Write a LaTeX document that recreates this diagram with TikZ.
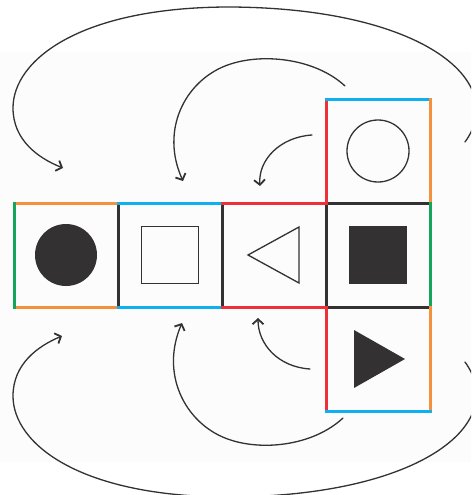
\documentclass[tikz,border=0pt]{standalone}
\usetikzlibrary{arrows.meta}
\definecolor{cOrange}{HTML}{F5903C}
\definecolor{cBlue}{HTML}{0DB1F0}
\definecolor{cRed}{HTML}{EE3038}
\definecolor{cGreen}{HTML}{12A65A}
\definecolor{ink}{HTML}{333132}
\definecolor{panel}{HTML}{FCFCFC}
\tikzset{
  cell/.style={rectangle, minimum size=104pt, inner sep=0pt, outer sep=0pt},
  edgeline/.style={line width=3pt, line cap=rect, line join=miter},
  edgeK/.style={edgeline, draw=ink},
  edgeO/.style={edgeline, draw=cOrange},
  edgeB/.style={edgeline, draw=cBlue},
  edgeR/.style={edgeline, draw=cRed},
  edgeG/.style={edgeline, draw=cGreen},
  outline/.style={draw=ink, line width=1.3pt, inner sep=0pt, outer sep=0pt},
  solid shape/.style={fill=ink, draw=none, inner sep=0pt, outer sep=0pt},
  rot/.style={draw=ink, line width=1.3pt, line cap=round,
    -{Straight Barb[length=5pt,width=11pt,line width=1.8pt]}}
}
\begin{document}
\begin{tikzpicture}[x=1pt,y=-1pt]
\useasboundingbox (0,0) rectangle (471,495);
\clip (0,0) rectangle (471,495);
\fill[panel] (0,52) rectangle (471,462);

% cells
\node[cell] (c1) at (66,255) {};
\node[cell] (c2) at (170,255) {};
\node[cell] (c3) at (274,255) {};
\node[cell] (c4) at (378,255) {};
\node[cell] (ct) at (378,151) {};
\node[cell] (cb) at (378,359) {};

% black edges
\draw[edgeK] (c1.north east) -- (c1.south east);
\draw[edgeK] (c2.north east) -- (c2.south east);
\draw[edgeK] (c3.north east) -- (c3.south east);
\draw[edgeK] (c4.north west) -- (c4.north east);
\draw[edgeK] (c4.south west) -- (c4.south east);

% coloured edges
\draw[edgeO] (c1.north west) -- (c1.north east);
\draw[edgeO] (c1.south west) -- (c1.south east);
\draw[edgeG] (c1.north west) -- (c1.south west);
\draw[edgeB] (c2.north west) -- (c2.north east);
\draw[edgeB] (c2.south west) -- (c2.south east);
\draw[edgeR] (c3.north west) -- (ct.south west) -- (ct.north west);
\draw[edgeR] (c3.south west) -- (cb.north west) -- (cb.south west);
\draw[edgeB] (ct.north west) -- (ct.north east);
\draw[edgeO] (ct.north east) -- (ct.south east);
\draw[edgeG] (c4.north east) -- (c4.south east);
\draw[edgeO] (cb.north east) -- (cb.south east);
\draw[edgeB] (cb.south west) -- (cb.south east);

% faces
\node[solid shape, circle, minimum size=62pt] (dot) at (c1) {};
\node[outline, rectangle, minimum size=57pt] (box) at (c2) {};
\draw[outline, line join=miter] ([shift={(-26,0)}]c3.center) -- ([shift={(25,-28)}]c3.center) -- ([shift={(25,28)}]c3.center) -- cycle;
\node[solid shape, rectangle, minimum size=58pt] (blk) at (c4) {};
\node[outline, circle, minimum size=62pt] (ring) at (ct) {};
\fill[ink] ([shift={(-24,-29)}]cb.center) -- ([shift={(27,0)}]cb.center) -- ([shift={(-24,29)}]cb.center) -- cycle;

% rotation arrows
\coordinate (o1s) at (465,142);
\coordinate (o1e) at (63,168);
\coordinate (o2s) at (465,362);
\coordinate (o2e) at (62,336);
\coordinate (i1s) at (345,86);
\coordinate (i1e) at (183,181);
\coordinate (i2s) at (343,418);
\coordinate (i2e) at (182,323);
\coordinate (s1s) at (312,135);
\coordinate (s1e) at (260,186);
\coordinate (s2s) at (310,369);
\coordinate (s2e) at (258,318);

\draw[rot] (o1s) .. controls (510,80) and (420,8) .. (230,7)
  .. controls (80,7) and (13,60) .. (13,108)
  .. controls (13,140) and (38,158) .. (o1e);
\draw[rot] (o2s) .. controls (510,424) and (420,496) .. (230,497)
  .. controls (80,497) and (13,444) .. (13,396)
  .. controls (13,364) and (38,346) .. (o2e);
\draw[rot] (i1s) .. controls (315,58) and (260,52) .. (225,66)
  .. controls (185,82) and (160,130) .. (i1e);
\draw[rot] (i2s) .. controls (313,446) and (260,452) .. (225,438)
  .. controls (185,422) and (160,374) .. (i2e);
\draw[rot] (s1s) .. controls (280,137) and (258,160) .. (s1e);
\draw[rot] (s2s) .. controls (278,367) and (258,344) .. (s2e);
\end{tikzpicture}
\end{document}
